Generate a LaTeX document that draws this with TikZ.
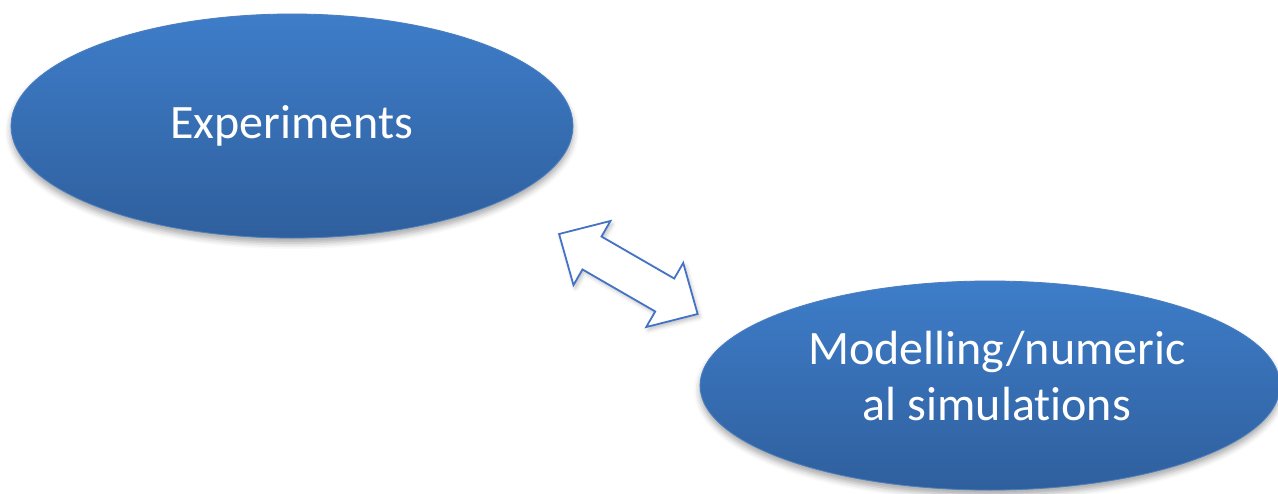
\documentclass[tikz,border=0pt]{standalone}
\usepackage{fontspec}
\setmainfont{Carlito}[Ligatures=NoCommon]
\usetikzlibrary{shapes.geometric,shadows.blur}

\definecolor{blobtop}{HTML}{3E7DC9}
\definecolor{blobbot}{HTML}{2F5F9D}
\definecolor{blobedge}{HTML}{4A7EC0}
\definecolor{arrowedge}{HTML}{4472C4}

\tikzset{
  blob/.style={ellipse, inner sep=0pt, draw=blobedge, line width=0.8pt,
    top color=blobtop, bottom color=blobbot, text=white, align=center,
    font=\fontsize{48}{56}\selectfont,
    blur shadow={shadow xshift=0pt, shadow yshift=-5pt, shadow blur radius=6pt, shadow opacity=35}},
  blockarrow/.style={draw=arrowedge, fill=white, line width=1.8pt, line join=miter,
    blur shadow={shadow xshift=2pt, shadow yshift=-3pt, shadow blur radius=4pt, shadow opacity=25}}
}

\begin{document}
\begin{tikzpicture}[x=1pt, y=-1pt]
  \useasboundingbox (0,0) rectangle (1278,493);

  \node[blob, minimum width=562pt, minimum height=224pt] (exp) at (292,126) {Experiments};
  % the text sits a little right of and above the centre of this ellipse
  \node[blob, minimum width=580pt, minimum height=209pt] (sim) at (990,385.5)
    {\hspace*{14pt}Modelling/numeric\\\hspace*{14pt}al simulations\rule[-20pt]{0pt}{20pt}};

  % two-headed block arrow between the ellipses
  \begin{scope}[shift={(628.35,274)}, rotate=-30]
    \coordinate (tl) at (-80,0);
    \coordinate (tr) at (80,0);
    \draw[blockarrow] (tl) -- (-42,-37) -- (-42,-19) -- (42,-19) -- (42,-37)
      -- (tr) -- (42,37) -- (42,19) -- (-42,19) -- (-42,37) -- cycle;
  \end{scope}
\end{tikzpicture}
\end{document}
